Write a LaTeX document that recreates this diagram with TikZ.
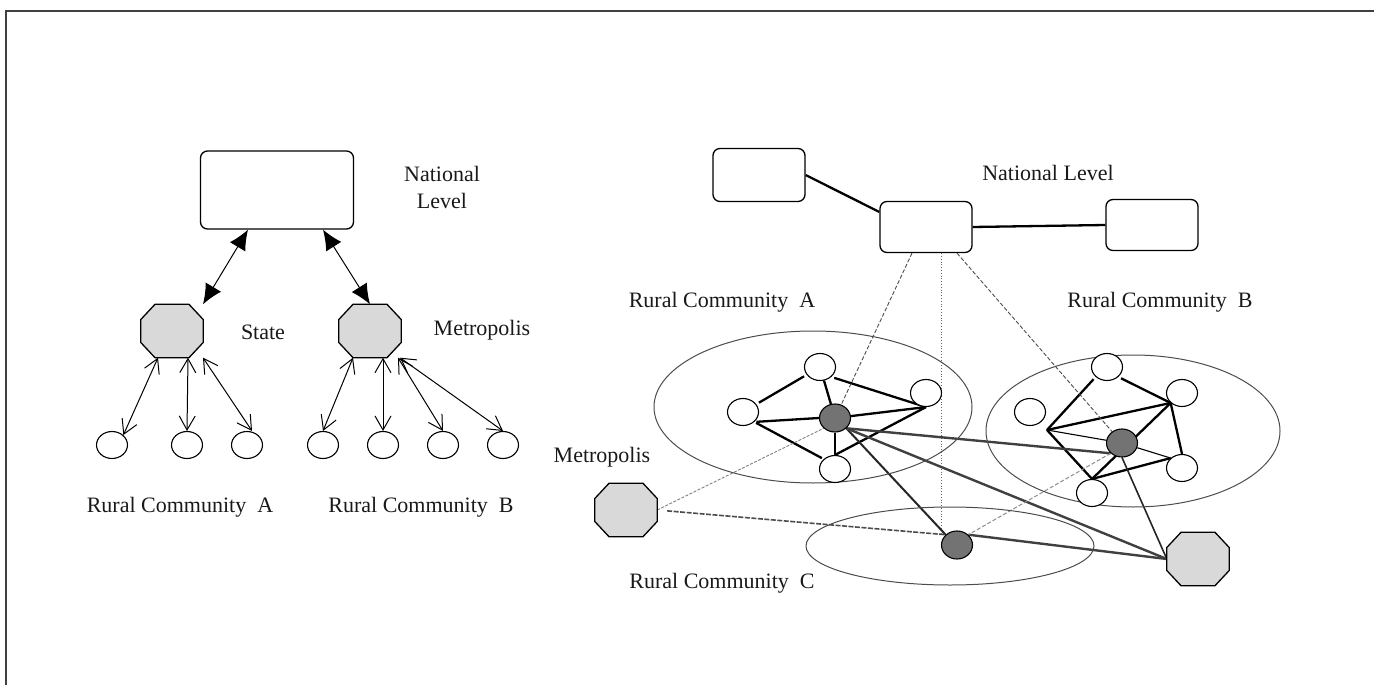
\documentclass[tikz,border=0pt]{standalone}
\usepackage{fontspec}
\setmainfont{Liberation Serif}
\usetikzlibrary{arrows.meta, shapes.geometric}
\pgfdeclarelayer{background}
\pgfsetlayers{background,main}
\tikzset{
    natbox/.style={rectangle, rounded corners=7pt, draw=black, line width=1.3pt, fill=white},
    octbase/.style={rectangle, draw=none, minimum width=62pt, minimum height=53pt, inner sep=0pt},
    octline/.style={draw=black, line width=1.3pt, fill=black!15, line join=miter},
    village/.style={ellipse, draw=black, line width=1.1pt, fill=white,
        minimum width=31pt, minimum height=27pt, inner sep=0pt},
    hub/.style={ellipse, draw=black, line width=1.1pt, fill=black!55,
        minimum width=31pt, minimum height=28pt, inner sep=0pt},
    region/.style={ellipse, draw=black!70, line width=1pt, inner sep=0pt},
    bigarr/.style={{Latex[length=20pt,width=18pt]}-{Latex[length=20pt,width=18pt]}, line width=1pt, draw=black},
    smallarr/.style={{Straight Barb[length=14pt,width=16pt]}-{Straight Barb[length=14pt,width=16pt]},
        line width=1pt, draw=black},
    tie/.style={line width=2.3pt, draw=black},
    thintie/.style={line width=1.1pt, draw=black},
    trunk/.style={line width=2.4pt, draw=black!75},
    natlink/.style={line width=0.9pt, draw=black!70, dash pattern=on 4pt off 2pt},
    lbl/.style={font=\fontsize{22}{27}\selectfont, text=black!90, align=center, inner sep=0pt}
}
\newcommand{\octnode}[2]{%
    \node[octbase] (#1) at #2 {};
    \draw[octline] ([xshift=-17pt]#1.north) -- ([xshift=17pt]#1.north)
        -- ([yshift=11.5pt]#1.east) -- ([yshift=-11.5pt]#1.east)
        -- ([xshift=17pt]#1.south) -- ([xshift=-17pt]#1.south)
        -- ([yshift=-11.5pt]#1.west) -- ([yshift=11.5pt]#1.west) -- cycle;
}

\begin{document}
\begin{tikzpicture}[x=1pt, y=-1pt]
\useasboundingbox (0,0) rectangle (1374,685);
\draw[line width=1.5pt, black!75] (6,685) -- (6,11) -- (1374,11);

%% ── LEFT: HIERARCHY ─────────────────────────────────────────────
\node[natbox, minimum width=153pt, minimum height=78pt] (natL) at (277,190) {};
\node[lbl] (natLlbl) at (442,187) {National\\Level};

\octnode{stateO}{(172,331)}
\octnode{metroL}{(370,331)}
\node[lbl] (stateLbl) at (263,332) {State};
\node[lbl] (metroLlbl) at (482,330) {Metropolis};

\node[village] (cA1) at (112,445) {};
\node[village] (cA2) at (187,445) {};
\node[village] (cA3) at (247,445) {};
\node[village] (cB1) at (323,445) {};
\node[village] (cB2) at (383,445) {};
\node[village] (cB3) at (443,445) {};
\node[village] (cB4) at (503,445) {};

\node[lbl] (rcAl) at (180,507) {Rural Community\ \ A};
\node[lbl] (rcBl) at (421,507) {Rural Community\ \ B};

\draw[bigarr] ([xshift=-29pt]natL.south) -- ([xshift=31pt]stateO.north);
\draw[bigarr] ([xshift=46pt]natL.south) -- (metroL.north);

\draw[smallarr] ([xshift=-14pt]stateO.south) -- (cA1.north east);
\draw[smallarr] ([xshift=16pt]stateO.south) -- (cA2.north);
\draw[smallarr] ([xshift=31pt]stateO.south) -- ([xshift=5pt]cA3.north);
\draw[smallarr] ([xshift=-17pt]metroL.south) -- (cB1.north);
\draw[smallarr] ([xshift=13pt]metroL.south) -- (cB2.north);
\draw[smallarr] ([xshift=28pt]metroL.south) -- (cB3.north);
\draw[smallarr] ([xshift=30pt]metroL.south) -- (cB4.north);

%% ── RIGHT: NETWORK ──────────────────────────────────────────────
\node[natbox, minimum width=92pt, minimum height=53pt] (natTL) at (759,175) {};
\node[natbox, minimum width=92pt, minimum height=51pt] (natC) at (926,227) {};
\node[natbox, minimum width=92pt, minimum height=51pt] (natR) at (1152,225) {};
\node[lbl] (natRlbl) at (1048,173) {National Level};

\node[region, minimum width=318pt, minimum height=152pt] (ellA) at (813,407) {};
\node[region, minimum width=294pt, minimum height=152pt] (ellB) at (1133,431) {};
\node[region, minimum width=288pt, minimum height=78pt] (ellC) at (950,546) {};

\node[lbl] (rcA) at (722,302) {Rural Community\ \ A};
\node[lbl] (rcB) at (1160,302) {Rural Community\ \ B};
\node[lbl] (rcC) at (722,583) {Rural Community\ \ C};
\node[lbl] (metroRlbl) at (602,457) {Metropolis};

\octnode{octM}{(626,510)}
\octnode{octR}{(1198,559)}

% community A
\node[village] (a1) at (820,367) {};
\node[village] (a2) at (743,412) {};
\node[village] (a3) at (926,393) {};
\node[village] (a4) at (835,469) {};
\node[hub] (hA) at (835,418) {};

% community B
\node[village] (b1) at (1107,367) {};
\node[village] (b2) at (1030,412) {};
\node[village] (b3) at (1182,393) {};
\node[village] (b4) at (1182,468) {};
\node[village] (b5) at (1092,493) {};
\node[hub] (hB) at (1122,443) {};
\coordinate (bv) at (1047,430);

% community C
\node[hub] (hC) at (957,545) {};

\begin{pgfonlayer}{background}
\draw[tie] (natTL.east) -- ([yshift=15pt]natC.west);
\draw[tie] (natC.east) -- (natR.west);

% links inside A
\draw[tie, shorten <=3pt, shorten >=3pt] (a2) -- (a1);
\draw[tie] (a1) -- (hA);
\draw[tie, shorten <=3pt] (a1.south east) -- (a3.south);
\draw[tie] (hA) -- (a3.south);
\draw[tie, shorten <=2pt] (a2.south east) -- (hA.west);
\draw[tie, shorten <=2pt, shorten >=2pt] (a2.south east) -- (a4.north west);
\draw[tie] (hA) -- (a4);
\draw[tie] (a4.north) -- (a3.south);

% links inside B
\draw[tie, shorten <=3pt] (b1.south west) -- (bv);
\draw[tie, shorten <=3pt] (b1.south east) -- (b3.south west);
\draw[tie] (bv) -- (b3.south west);
\draw[tie] (bv) -- (b5.north);
\draw[tie] (b5.north) -- (b3.south west);
\draw[tie] (b5.north) -- (b4.north west);
\draw[tie] (b3.south west) -- (b4.north);
\draw[thintie] (bv) -- (hB);
\draw[thintie] (hB) -- (b4.north west);

% national -> hubs
\draw[natlink] ([xshift=-14pt]natC.south) -- (hA);
\draw[line width=0.8pt, black!60, dotted] ([xshift=15pt]natC.south) -- ([xshift=15pt]natC.south |- hC.north west);
\draw[natlink] ([xshift=31pt]natC.south) -- (hB);

% metropolis -> hubs
\draw[line width=0.9pt, black!50, dash pattern=on 3pt off 1.5pt] (octM.east) -- (hA.south west);
\draw[line width=1.6pt, black!70, dash pattern=on 5pt off 1.5pt, shorten <=10pt] (octM.east) -- (hC.north west);

% hubs -> hubs and outer octagon
\draw[line width=2pt, black!85] (hA.south east) -- (hC.north west);
\draw[trunk] (hA.south east) -- (hB.south west);
\draw[trunk] (hA.south east) -- (octR.west);
\draw[line width=1.6pt, black!85] (hB.south) -- (octR.west);
\draw[trunk] (hC.north east) -- (octR.west);
\draw[line width=1pt, black!45, dash pattern=on 4pt off 2pt] (hB.south west) -- (hC.north east);
\end{pgfonlayer}

\end{tikzpicture}
\end{document}
